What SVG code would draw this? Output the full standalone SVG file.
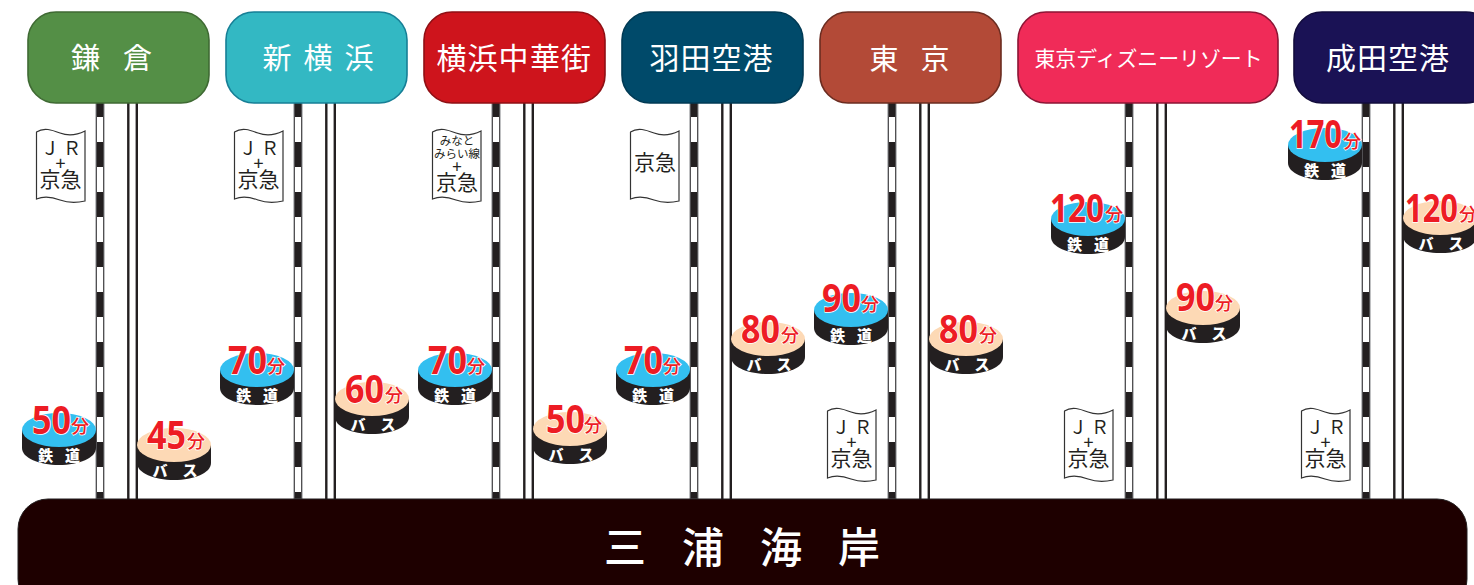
<svg xmlns="http://www.w3.org/2000/svg" width="1474" height="585" viewBox="0 0 1474 585">
<style>
.jp{font-family:"Noto Sans CJK JP","Noto Sans",sans-serif}
.box{stroke-width:1.600}
.nt{fill:#fff;font-size:29px;text-anchor:middle}
.rb{fill:#231f20;stroke:#808285;stroke-width:1}
.rd{stroke:#fff;stroke-width:6;stroke-dasharray:25 25;fill:none}
.rl{stroke:#231f20;stroke-width:2.400;fill:none}
.flag{fill:#fff;stroke:#333;stroke-width:1.200}
.ft{fill:#231f20;text-anchor:middle;font-weight:400}
.pb{fill:#231f20}
.pt{fill:#33bff0}
.pb2{fill:#fdd9b5}
.pl{fill:#fff;font-size:15px;font-weight:900;text-anchor:middle}
.n{font-family:"Open Sans","Liberation Sans",sans-serif;font-weight:700;font-size:40px;fill:#ed1c24;stroke:#fff;stroke-width:1.500;paint-order:stroke}
.u{fill:#ed1c24;font-size:18px;font-weight:500;stroke:#fff;stroke-width:1.500;paint-order:stroke}
</style>
<defs>
<g id="rail">
<rect class="rb" x="-4" y="100" width="8" height="399"/>
<line class="rd" x1="0" y1="117" x2="0" y2="499"/>
<line class="rl" x1="28.300" y1="100" x2="28.300" y2="499"/>
<line class="rl" x1="36.800" y1="100" x2="36.800" y2="499"/>
</g>
<path id="fl" class="flag" d="M0.500,4 C8,-1 16,2 24,5 C32,8 41,7 49,3 V73 C41,75 32,75 24,72 C16,69 8,68 0.500,71 Z"/>
<g id="disc"><path class="pb" d="M-37,0 V18 C-37,28 -20,35 0,35 C20,35 37,28 37,18 V0 Z"/></g>
</defs>

<g id="connectors">
<use href="#rail" x="100"/>
<use href="#rail" x="298"/>
<use href="#rail" x="496"/>
<use href="#rail" x="694"/>
<use href="#rail" x="892"/>
<use href="#rail" x="1129"/>
<use href="#rail" x="1366"/>
</g>

<g id="node-kamakura" class="jp"><rect class="box" x="28" y="12" width="181" height="91" rx="28" fill="#548f46" stroke="#3f6a33"/><text class="nt" x="85.500 137.500" y="69">鎌倉</text></g>
<g id="node-shinyokohama" class="jp"><rect class="box" x="226" y="12" width="181" height="91" rx="28" fill="#33b8c3" stroke="#167f96"/><text class="nt" x="277 318 359" y="69">新横浜</text></g>
<g id="node-chinatown" class="jp"><rect class="box" x="424" y="12" width="181" height="91" rx="28" fill="#ce141c" stroke="#8f0f14"/><text class="nt" x="451.500 482.500 513.500 545 576" y="69" style="font-size:30px">横浜中華街</text></g>
<g id="node-haneda" class="jp"><rect class="box" x="622" y="12" width="181" height="91" rx="28" fill="#004a6a" stroke="#003a54"/><text class="nt" x="664.500 695.500 726.500 757.500" y="69" style="font-size:30px">羽田空港</text></g>
<g id="node-tokyo" class="jp"><rect class="box" x="820" y="12" width="181" height="91" rx="28" fill="#b34a37" stroke="#6b2c20"/><text class="nt" x="884 935" y="70">東京</text></g>
<g id="node-disney" class="jp"><rect class="box" x="1018" y="12" width="260" height="91" rx="28" fill="#f02b58" stroke="#8c1535"/><text x="1148.500" y="66" fill="#fff" text-anchor="middle" font-size="21" textLength="228" lengthAdjust="spacingAndGlyphs">東京ディズニーリゾート</text></g>
<g id="node-narita" class="jp"><rect class="box" x="1294" y="12" width="200" height="91" rx="28" fill="#1a1255" stroke="#120c3c"/><text class="nt" x="1341 1372 1403 1434" y="69" style="font-size:30px">成田空港</text></g>
<g id="node-miura" class="jp"><rect x="18" y="499" width="1449" height="110" rx="30" fill="#1e0000" stroke="#231f20"/><text x="625 703 781 859" y="563" fill="#fff" font-size="42" font-weight="500" text-anchor="middle">三浦海岸</text></g>

<g id="flag-kamakura" class="jp"><use href="#fl" x="36" y="128"/><text class="ft" x="50 72" y="155" font-size="18">ＪＲ</text><text class="ft" x="60.500" y="170" font-size="18">+</text><text class="ft" x="60.500" y="187" font-size="21">京急</text></g>
<g id="flag-shinyokohama" class="jp"><use href="#fl" x="234" y="128"/><text class="ft" x="248 270" y="155" font-size="18">ＪＲ</text><text class="ft" x="258.500" y="170" font-size="18">+</text><text class="ft" x="258.500" y="187" font-size="21">京急</text></g>
<g id="flag-chinatown" class="jp"><use href="#fl" x="432" y="128"/><text class="ft" x="457" y="145" font-size="11.500">みなと</text><text class="ft" x="457" y="158" font-size="11.500">みらい線</text><text class="ft" x="457" y="173" font-size="17">+</text><text class="ft" x="457" y="190" font-size="21">京急</text></g>
<g id="flag-haneda" class="jp"><use href="#fl" x="630" y="128"/><text class="ft" x="655" y="170" font-size="21">京急</text></g>
<g id="flag-tokyo" class="jp"><use href="#fl" x="827" y="407"/><text class="ft" x="841 863" y="434" font-size="18">ＪＲ</text><text class="ft" x="851.500" y="449" font-size="18">+</text><text class="ft" x="851.500" y="466" font-size="21">京急</text></g>
<g id="flag-disney" class="jp"><use href="#fl" x="1064" y="407"/><text class="ft" x="1078 1100" y="434" font-size="18">ＪＲ</text><text class="ft" x="1088.500" y="449" font-size="18">+</text><text class="ft" x="1088.500" y="466" font-size="21">京急</text></g>
<g id="flag-narita" class="jp"><use href="#fl" x="1301" y="407"/><text class="ft" x="1315 1337" y="434" font-size="18">ＪＲ</text><text class="ft" x="1325.500" y="449" font-size="18">+</text><text class="ft" x="1325.500" y="466" font-size="21">京急</text></g>

<g id="rail-kamakura" class="jp"><use href="#disc" x="59" y="430"/><ellipse class="pt" cx="59" cy="430" rx="37" ry="17"/><text class="n" x="32" y="434" textLength="39" lengthAdjust="spacingAndGlyphs">50</text><text class="u" x="71" y="433">分</text><text class="pl" x="45.500 72.500" y="461">鉄道</text></g>
<g id="bus-kamakura" class="jp"><use href="#disc" x="174" y="445"/><ellipse class="pb2" cx="174" cy="445" rx="37" ry="17"/><text class="n" x="147" y="449" textLength="39" lengthAdjust="spacingAndGlyphs">45</text><text class="u" x="187" y="448">分</text><text class="pl" x="160 190" y="476">バス</text></g>
<g id="rail-shinyokohama" class="jp"><use href="#disc" x="257" y="370"/><ellipse class="pt" cx="257" cy="370" rx="37" ry="17"/><text class="n" x="228" y="374" textLength="39" lengthAdjust="spacingAndGlyphs">70</text><text class="u" x="267" y="373">分</text><text class="pl" x="243.500 270.500" y="401">鉄道</text></g>
<g id="bus-shinyokohama" class="jp"><use href="#disc" x="372" y="399"/><ellipse class="pb2" cx="372" cy="399" rx="37" ry="17"/><text class="n" x="345" y="403" textLength="39" lengthAdjust="spacingAndGlyphs">60</text><text class="u" x="385" y="402">分</text><text class="pl" x="358 388" y="430">バス</text></g>
<g id="rail-chinatown" class="jp"><use href="#disc" x="455" y="370"/><ellipse class="pt" cx="455" cy="370" rx="37" ry="17"/><text class="n" x="428" y="374" textLength="39" lengthAdjust="spacingAndGlyphs">70</text><text class="u" x="467" y="373">分</text><text class="pl" x="441.500 468.500" y="401">鉄道</text></g>
<g id="bus-chinatown" class="jp"><use href="#disc" x="570" y="429"/><ellipse class="pb2" cx="570" cy="429" rx="37" ry="17"/><text class="n" x="546" y="433" textLength="39" lengthAdjust="spacingAndGlyphs">50</text><text class="u" x="584" y="432">分</text><text class="pl" x="556 586" y="460">バス</text></g>
<g id="rail-haneda" class="jp"><use href="#disc" x="653" y="370"/><ellipse class="pt" cx="653" cy="370" rx="37" ry="17"/><text class="n" x="624" y="374" textLength="39" lengthAdjust="spacingAndGlyphs">70</text><text class="u" x="663" y="373">分</text><text class="pl" x="639.500 666.500" y="401">鉄道</text></g>
<g id="bus-haneda" class="jp"><use href="#disc" x="768" y="339"/><ellipse class="pb2" cx="768" cy="339" rx="37" ry="17"/><text class="n" x="741" y="343" textLength="39" lengthAdjust="spacingAndGlyphs">80</text><text class="u" x="781" y="342">分</text><text class="pl" x="754 784" y="370">バス</text></g>
<g id="rail-tokyo" class="jp"><use href="#disc" x="851" y="310"/><ellipse class="pt" cx="851" cy="310" rx="37" ry="17"/><text class="n" x="822" y="312" textLength="39" lengthAdjust="spacingAndGlyphs">90</text><text class="u" x="861" y="311">分</text><text class="pl" x="837.500 864.500" y="341">鉄道</text></g>
<g id="bus-tokyo" class="jp"><use href="#disc" x="966" y="339"/><ellipse class="pb2" cx="966" cy="339" rx="37" ry="17"/><text class="n" x="939" y="343" textLength="39" lengthAdjust="spacingAndGlyphs">80</text><text class="u" x="979" y="342">分</text><text class="pl" x="952 982" y="370">バス</text></g>
<g id="rail-disney" class="jp"><use href="#disc" x="1088" y="219"/><ellipse class="pt" cx="1088" cy="219" rx="37" ry="17"/><text class="n" x="1050" y="222" textLength="54" lengthAdjust="spacingAndGlyphs">120</text><text class="u" x="1105" y="221">分</text><text class="pl" x="1074.500 1101.500" y="250">鉄道</text></g>
<g id="bus-disney" class="jp"><use href="#disc" x="1203" y="308"/><ellipse class="pb2" cx="1203" cy="308" rx="37" ry="17"/><text class="n" x="1176" y="311" textLength="39" lengthAdjust="spacingAndGlyphs">90</text><text class="u" x="1215" y="310">分</text><text class="pl" x="1189 1219" y="339">バス</text></g>
<g id="rail-narita" class="jp"><use href="#disc" x="1325" y="145"/><ellipse class="pt" cx="1325" cy="145" rx="37" ry="17"/><text class="n" x="1289" y="148" textLength="53" lengthAdjust="spacingAndGlyphs">170</text><text class="u" x="1343" y="148">分</text><text class="pl" x="1311.500 1338.500" y="176">鉄道</text></g>
<g id="bus-narita" class="jp"><use href="#disc" x="1440" y="218"/><ellipse class="pb2" cx="1440" cy="218" rx="37" ry="17"/><text class="n" x="1405" y="222" textLength="53" lengthAdjust="spacingAndGlyphs">120</text><text class="u" x="1459" y="221">分</text><text class="pl" x="1426 1456" y="249">バス</text></g>
</svg>
